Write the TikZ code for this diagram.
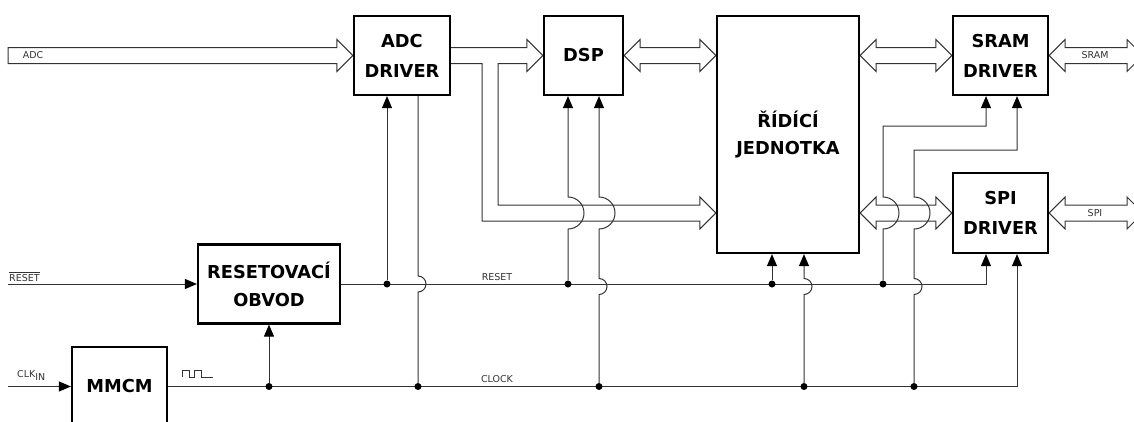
\documentclass[tikz,border=0pt]{standalone}
\usepackage{fontspec}
\setmainfont{DejaVu Sans}
\usetikzlibrary{arrows.meta,calc}
\pgfdeclarelayer{background}
\pgfsetlayers{background,main}
% double-headed bus arrow between two points (same height)
\newcommand\busLR[2]{%
  \draw[bus] let \p1=(#1), \p2=(#2) in
    (\x1,\y1) -- (\x1+16pt,\y1+16pt) -- (\x1+16pt,\y1+8pt) -- (\x2-16pt,\y1+8pt)
    -- (\x2-16pt,\y1+16pt) -- (\x2,\y1) -- (\x2-16pt,\y1-16pt) -- (\x2-16pt,\y1-8pt)
    -- (\x1+16pt,\y1-8pt) -- (\x1+16pt,\y1-16pt) -- cycle;}
% single-headed bus arrow
\newcommand\busR[2]{%
  \draw[bus] let \p1=(#1), \p2=(#2) in
    (\x1,\y1+8pt) -- (\x2-16pt,\y1+8pt) -- (\x2-16pt,\y1+16pt) -- (\x2,\y1)
    -- (\x2-16pt,\y1-16pt) -- (\x2-16pt,\y1-8pt) -- (\x1,\y1-8pt) -- cycle;}
\begin{document}
\begin{tikzpicture}[x=1pt,y=-1pt,
  blk/.style={draw=black,line width=2.2pt,fill=white,inner sep=0pt,align=center,
    font=\fontsize{17.8}{30}\selectfont\bfseries},
  wire/.style={draw=black!80,line width=1pt},
  sig/.style={wire,-{Triangle[length=12pt,width=10pt,color=black]}},
  bus/.style={draw=black!80,line width=1pt,fill=white,line join=miter},
  lbl/.style={font=\fontsize{9.5}{10}\selectfont,text=black!80,inner sep=0pt},
  dot/.style={circle,fill=black,inner sep=0pt,minimum size=7pt}]
\useasboundingbox (0,0) rectangle (1134,421);

% blocks
\node[blk,minimum width=96pt,minimum height=79pt] (adcd) at (402,55.5) {ADC\\DRIVER};
\node[blk,minimum width=79pt,minimum height=79pt] (dsp) at (583.5,55.5) {DSP};
\node[blk,minimum width=142pt,minimum height=237pt] (ctrl) at (788,134.5) {ŘÍDÍCÍ\\[-3pt]JEDNOTKA};
\node[blk,minimum width=95pt,minimum height=79pt] (sram) at (1000.5,55.5) {SRAM\\DRIVER};
\node[blk,minimum width=95pt,minimum height=80pt] (spi) at (1000.5,213) {SPI\\DRIVER};
\node[blk,minimum width=142pt,minimum height=79pt] (rbox) at (269,284) {RESETOVACÍ\\[-2pt]OBVOD};
\node[blk,minimum width=95pt,minimum height=79pt] (mmcm) at (119.5,386.5) {MMCM};

% pins
\coordinate (adcA) at ([xshift=-15pt]adcd.south);
\coordinate (adcB) at ([xshift=16pt]adcd.south);
\coordinate (dspA) at ([xshift=-15.5pt]dsp.south);
\coordinate (dspB) at ([xshift=15.5pt]dsp.south);
\coordinate (ctrlA) at ([xshift=-16pt]ctrl.south);
\coordinate (ctrlB) at ([xshift=16pt]ctrl.south);
\coordinate (sramA) at ([xshift=-14.5pt]sram.south);
\coordinate (sramB) at ([xshift=16.5pt]sram.south);
\coordinate (spiA) at ([xshift=-14.5pt]spi.south);
\coordinate (spiB) at ([xshift=16.5pt]spi.south);
\coordinate (adcin) at (8,55.5);
\coordinate (sramout) at (1143,55.5);
\coordinate (spiout) at (1143,213);
\coordinate (rstin) at (8,284);
\coordinate (clkin) at (8,386.5);

% junction dots
\node[dot] (d1) at (387,284) {};
\node[dot] (d3) at (568,284) {};
\node[dot] (d5) at (772,284) {};
\node[dot] (d7) at (883,284) {};
\node[dot] (d9) at (269,386.5) {};
\node[dot] (d2) at (418,386.5) {};
\node[dot] (d4) at (599,386.5) {};
\node[dot] (d6) at (804,386.5) {};
\node[dot] (d8) at (914,386.5) {};

\begin{pgfonlayer}{background}
\fill[white] (0,0) rectangle (1134,421);
% buses
\busR{adcin}{adcd.west}
\draw[bus] let \p1=(adcd.east), \p2=(dsp.west), \p3=(ctrl.west |- spi.west) in
  (\x1,\y1+8pt) -- (\x2-16pt,\y1+8pt) -- (\x2-16pt,\y1+16pt) -- (\x2,\y1)
  -- (\x2-16pt,\y1-16pt) -- (\x2-16pt,\y1-8pt) -- (\x1+47pt,\y1-8pt)
  -- (\x1+47pt,\y3+8pt) -- (\x3-16pt,\y3+8pt) -- (\x3-16pt,\y3+16pt) -- (\x3,\y3)
  -- (\x3-16pt,\y3-16pt) -- (\x3-16pt,\y3-8pt) -- (\x1+31pt,\y3-8pt)
  -- (\x1+31pt,\y1-8pt) -- (\x1,\y1-8pt);
\busLR{dsp.east}{ctrl.west |- dsp.east}
\busLR{ctrl.east |- sram.west}{sram.west}
\busLR{sram.east}{sramout}
\busLR{ctrl.east |- spi.west}{spi.west}
\busLR{spi.east}{spiout}

% rails
\draw[sig] (rstin) -- (rbox.west);
\draw[sig] (clkin) -- (mmcm.west);
\draw[sig] (rbox.east) -| (spiA);
\draw[sig] (mmcm.east) -| (spiB);
\draw[sig] (d9) -- (rbox.south);

% vertical wires
\draw[sig] (d1) -- (adcA);
\draw[wire] (adcB) -- (418,276) arc[start angle=90,end angle=-90,radius=8pt] -- (d2);
\draw[sig] (d3) -- (568,229) arc[start angle=-90,end angle=90,radius=16pt] -- (dspA);
\draw[sig] (d4) -- (599,294.5) arc[start angle=-90,end angle=90,radius=8pt]
  -- (599,229) arc[start angle=-90,end angle=90,radius=16pt] -- (dspB);
\draw[sig] (d5) -- (ctrlA);
\draw[sig] (d6) -- (804,294.5) arc[start angle=-90,end angle=90,radius=8pt] -- (ctrlB);
\draw[sig] (d7) -- (883,229) arc[start angle=-90,end angle=90,radius=16pt]
  -- (883,126) -| (sramA);
\draw[sig] (d8) -- (914,294.5) arc[start angle=-90,end angle=90,radius=8pt]
  -- (914,229) arc[start angle=-90,end angle=90,radius=16pt] -- (914,150) -| (sramB);
\end{pgfonlayer}

% labels
\node[lbl] (lADC) at (33,55.5) {ADC};
\node[lbl] (lSRAM) at (1095,55.5) {SRAM};
\node[lbl] (lSPI) at (1095,213) {SPI};
\node[lbl] (lRESET) at (497,277) {RESET};
\node[lbl] (lCLOCK) at (497,379) {CLOCK};
\node[lbl,anchor=south west] (lRst) at (9,282) {RESET};
\draw[black!80,line width=0.8pt] ([yshift=2.5pt]lRst.north west) -- ([yshift=2.5pt]lRst.north east);
\node[lbl,anchor=south west] (lClk) at (17,381) {CLK\raisebox{-3.5pt}{IN}};
\draw[black!80,line width=0.8pt] (182,377) -- (182,370) -- (189,370) -- (189,377) -- (194,377)
  -- (194,370) -- (201,370) -- (201,377) -- (213,377);
\end{tikzpicture}
\end{document}
